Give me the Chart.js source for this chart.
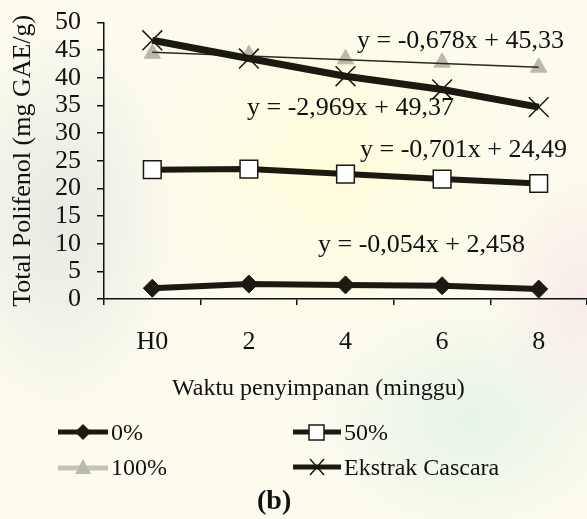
<!DOCTYPE html>
<html>
<head>
<meta charset="utf-8">
<script src="https://cdn.jsdelivr.net/npm/chart.js@4.4.1/dist/chart.umd.min.js"></script>
<style>
  html, body { margin: 0; padding: 0; }
  body {
    width: 587px; height: 519px; position: relative; overflow: hidden;
    font-family: "Liberation Serif", "Times New Roman", serif; color: #111;
    background:
      radial-gradient(ellipse 190px 170px at 330px 170px, rgba(255,252,215,0.9), rgba(255,252,215,0) 100%),
      radial-gradient(ellipse 120px 200px at 60px 220px, rgba(225,225,222,0.7), rgba(225,225,222,0) 100%),
      radial-gradient(ellipse 160px 120px at 470px 420px, rgba(215,240,225,0.6), rgba(215,240,225,0) 100%),
      radial-gradient(ellipse 90px 140px at 580px 300px, rgba(245,225,228,0.6), rgba(245,225,228,0) 100%),
      #fcfbee;
  }
  #wrap { position: absolute; left: 0; top: -9px; width: 587px; height: 528px; overflow: hidden; }
  .eq { position: absolute; font-size: 26px; white-space: nowrap; line-height: 1; }
  .leg { position: absolute; font-size: 24px; white-space: nowrap; line-height: 1; display: flex; align-items: center; }
  .leg svg { margin-right: 3px; }
  #xtitle { position: absolute; left: 172px; top: 375px; font-size: 24px; line-height: 1; white-space: nowrap; }
  #cap { position: absolute; left: 257px; top: 486px; font-size: 28px; font-weight: bold; line-height: 1; }
</style>
</head>
<body>
<div id="wrap"><canvas id="chart" width="587" height="528"></canvas></div>

<div class="eq" style="left:357px; top:27px;">y = -0,678x + 45,33</div>
<div class="eq" style="left:247px; top:94px;">y = -2,969x + 49,37</div>
<div class="eq" style="left:360px; top:136px;">y = -0,701x + 24,49</div>
<div class="eq" style="left:318px; top:231px;">y = -0,054x + 2,458</div>

<div id="xtitle">Waktu penyimpanan (minggu)</div>

<div class="leg" style="left:58px; top:420px;">
  <svg width="50" height="24"><line x1="0" y1="12" x2="50" y2="12" stroke="#1c1a10" stroke-width="5"/><polygon points="25,4 33,12 25,20 17,12" fill="#1c1a10"/></svg>0%
</div>
<div class="leg" style="left:293px; top:420px;">
  <svg width="48" height="24"><line x1="0" y1="12" x2="48" y2="12" stroke="#1c1a10" stroke-width="5"/><rect x="16" y="5" width="15" height="15" fill="#fff" stroke="#1c1a10" stroke-width="1.5"/></svg>50%
</div>
<div class="leg" style="left:58px; top:455px;">
  <svg width="50" height="24"><line x1="0" y1="13" x2="50" y2="13" stroke="#c4c4bc" stroke-width="5"/><polygon points="25,4 33,19 17,19" fill="#b9b9ad"/></svg>100%
</div>
<div class="leg" style="left:293px; top:455px;">
  <svg width="48" height="24"><line x1="0" y1="12" x2="48" y2="12" stroke="#1c1a10" stroke-width="5"/><line x1="17" y1="4" x2="31" y2="20" stroke="#1c1a10" stroke-width="1.5"/><line x1="31" y1="4" x2="17" y2="20" stroke="#1c1a10" stroke-width="1.5"/></svg>Ekstrak Cascara
</div>

<div id="cap">(b)</div>

<script>
// data
const weeks = ['H0', '2', '4', '6', '8'];
const pct0 = [1.95, 2.7, 2.55, 2.4, 1.8];
const pct50 = [23.4, 23.5, 22.6, 21.7, 20.9];
const pct100 = [44.4, 44.2, 43.4, 42.8, 41.9];
const cascara = [46.8, 43.5, 40.3, 37.9, 34.7];
const trend100 = [44.65, null, null, null, 41.94];
const yTicks = [0, 5, 10, 15, 20, 25, 30, 35, 40, 45, 50];

const dark = '#1c1a10';
const serif = '"Liberation Serif", "Times New Roman", serif';

new Chart(document.getElementById('chart'), {
    type: 'line',
    data: {
        labels: weeks,
        datasets: [{
            label: '0%',
            data: pct0,
            borderColor: dark,
            borderWidth: 6,
            pointStyle: 'rectRot',
            pointRadius: 9,
            pointBackgroundColor: dark,
            pointBorderColor: dark,
            pointBorderWidth: 1,
            order: 4
        }, {
            label: '50%',
            data: pct50,
            borderColor: dark,
            borderWidth: 6,
            pointStyle: 'rect',
            pointRadius: 12.5,
            pointBackgroundColor: '#ffffff',
            pointBorderColor: dark,
            pointBorderWidth: 1.5,
            order: 3
        }, {
            label: '100%',
            data: pct100,
            showLine: false,
            pointStyle: 'triangle',
            pointRadius: 9.5,
            pointBackgroundColor: '#b9b9ad',
            pointBorderColor: '#b9b9ad',
            pointBorderWidth: 1,
            order: 5
        }, {
            label: 'trend 100%',
            data: trend100,
            spanGaps: true,
            borderColor: '#2a2a1c',
            borderWidth: 1.5,
            pointRadius: 0,
            order: 2
        }, {
            label: 'Ekstrak Cascara',
            data: cascara,
            borderColor: dark,
            borderWidth: 7,
            pointStyle: 'crossRot',
            pointRadius: 14,
            pointBorderColor: dark,
            pointBorderWidth: 1.5,
            order: 1
        }]
    },
    options: {
        responsive: false,
        animation: false,
        clip: false,
        layout: { autoPadding: false, padding: { top: 21, right: 0, bottom: 110, left: 0 } },
        plugins: {
            legend: { display: false },
            tooltip: { enabled: false }
        },
        scales: {
            x: {
                offset: true,
                grid: { offset: true, drawOnChartArea: false, drawTicks: true, tickLength: 6, tickColor: '#111', lineWidth: 1.5 },
                border: { color: '#111', width: 1.5 },
                ticks: { color: '#111', font: { family: serif, size: 26 }, padding: 22, maxRotation: 0, autoSkip: false },
                afterFit: function (scale) { scale.height = 110; }
            },
            y: {
                min: 0,
                max: 50,
                afterBuildTicks: function (scale) { scale.ticks = yTicks.map(v => ({ value: v })); },
                grid: { drawOnChartArea: false, drawTicks: true, tickLength: 7, tickColor: '#111', lineWidth: 1.5 },
                border: { color: '#111', width: 1.5 },
                ticks: { color: '#111', font: { family: serif, size: 26 }, padding: 16, autoSkip: false },
                title: { display: true, text: 'Total Polifenol (mg GAE/g)', color: '#111', font: { family: serif, size: 26 }, padding: { top: 8, bottom: 4 } },
                afterFit: function (scale) { scale.width = 104; }
            }
        }
    }
});
</script>
</body>
</html>
